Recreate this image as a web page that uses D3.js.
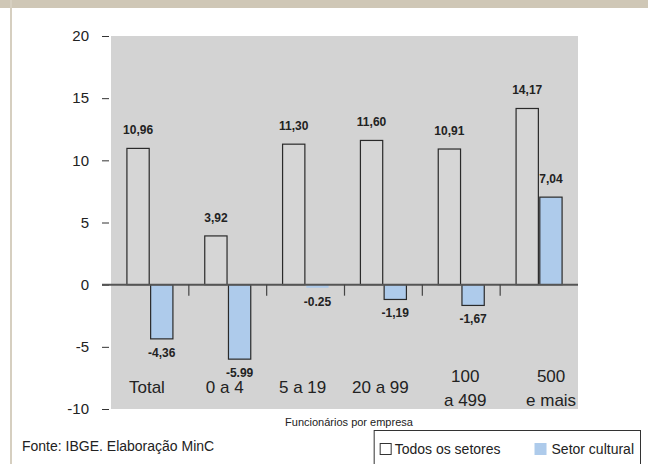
<!DOCTYPE html>
<html><head><meta charset="utf-8">
<script src="https://cdn.jsdelivr.net/npm/d3@7"></script>
<style>body{margin:0;background:#fff}svg{display:block}svg text{font-family:Arial,"Liberation Sans",Helvetica,sans-serif}</style>
</head><body>
<svg id="c" width="648" height="464"></svg>
<script>
const categories = [["Total"], ["0 a 4"], ["5 a 19"], ["20 a 99"], ["100", "a 499"], ["500", "e mais"]];
const todos = [10.96, 3.92, 11.30, 11.60, 10.91, 14.17];
const cultural = [-4.36, -5.99, -0.25, -1.19, -1.67, 7.04];
const todosLabels = ["10,96", "3,92", "11,30", "11,60", "10,91", "14,17"];
const culturalLabels = ["-4,36", "-5.99", "-0.25", "-1,19", "-1,67", "7,04"];
const yTicks = [-10, -5, 0, 5, 10, 15, 20];
const seriesNames = ["Todos os setores", "Setor cultural"];

const FONT = 'Arial, "Liberation Sans", Helvetica, sans-serif';
const svg = d3.select("#c");
// frame decoration
svg.append("rect").attr("x",0).attr("y",0).attr("width",648).attr("height",8).attr("fill","#cfc7b6");
svg.append("rect").attr("x",10).attr("y",0).attr("width",2).attr("height",464).attr("fill","#d6cfc0");

const L = 111, R = 578;
const y = d3.scaleLinear().domain([-10, 20]).range([409, 36]);
const x0 = d3.scaleBand().domain(d3.range(categories.length)).range([L, R]).padding(0);
const x1 = d3.scaleBand().domain([0, 1]).range([x0.bandwidth()/2 - 23, x0.bandwidth()/2 + 23]).paddingInner(0.06);

svg.append("rect").attr("x", L).attr("y", y(20)).attr("width", R - L).attr("height", y(-10) - y(20)).attr("fill", "#d3d3d3");

// y axis
const ax = svg.append("g").attr("transform", `translate(109,0)`)
  .call(d3.axisLeft(y).tickValues(yTicks).tickSize(7).tickPadding(13).tickFormat(d => String(d)));
ax.attr("font-family", FONT);
ax.select(".domain").remove();
ax.selectAll(".tick line").attr("stroke", "#333");
ax.selectAll(".tick text").attr("font-size", 15).attr("fill", "#222");

const g = svg.append("g");
const groups = g.selectAll("g.grp").data(categories).join("g")
  .attr("transform", (d, i) => `translate(${x0(i)},0)`);

// todos bars
groups.append("rect")
  .attr("x", x1(0)).attr("width", x1.bandwidth())
  .attr("y", (d, i) => y(Math.max(0, todos[i])))
  .attr("height", (d, i) => Math.abs(y(todos[i]) - y(0)))
  .attr("fill", "#d6d6d6").attr("stroke", "#2a2a2a").attr("stroke-width", 1.2);
// cultural bars
groups.append("rect")
  .attr("x", x1(1)).attr("width", x1.bandwidth())
  .attr("y", (d, i) => y(Math.max(0, cultural[i])))
  .attr("height", (d, i) => Math.abs(y(cultural[i]) - y(0)))
  .attr("fill", "#aecbeb")
  .attr("stroke", (d, i) => Math.abs(cultural[i]) < 0.5 ? "none" : "#2a2a2a").attr("stroke-width", 1.2);

// zero line
svg.append("line").attr("x1", 102).attr("x2", R).attr("y1", y(0)).attr("y2", y(0))
  .attr("stroke", "#555").attr("stroke-width", 2);
// group separator ticks
svg.selectAll("line.sep").data(d3.range(1, categories.length)).join("line")
  .attr("x1", i => x0(i)).attr("x2", i => x0(i))
  .attr("y1", y(0)).attr("y2", y(0) + 11).attr("stroke", "#444").attr("stroke-width", 1.2);

// value labels
function lab(vals, labels, s) {
  groups.append("text")
    .attr("x", x1(s) + x1.bandwidth()/2)
    .attr("y", (d, i) => vals[i] >= 0 ? y(vals[i]) - 14 : y(vals[i]) + 18)
    .attr("text-anchor", "middle").attr("font-size", 12).attr("font-weight", "bold").attr("fill", "#222")
    .text((d, i) => labels[i]);
}
lab(todos, todosLabels, 0);
lab(cultural, culturalLabels, 1);

// category labels
groups.each(function(d, i) {
  const t = d3.select(this).append("text").attr("text-anchor", "middle")
    .attr("font-size", 17).attr("fill", "#222");
  const cx = x0.bandwidth()/2 + (i === 5 ? 12 : (i === 4 ? 4 : -3));
  if (d.length === 1) {
    t.append("tspan").attr("x", cx).attr("y", 393).text(d[0]);
  } else {
    t.append("tspan").attr("x", cx).attr("y", 382).text(d[0]);
    t.append("tspan").attr("x", cx).attr("y", 406).text(d[1]);
  }
});

svg.append("text").attr("x", 349).attr("y", 426).attr("text-anchor", "middle")
  .attr("font-size", 11).attr("fill", "#222").text("Funcionários por empresa");
svg.append("text").attr("x", 22).attr("y", 451)
  .attr("font-size", 14).attr("fill", "#222").text("Fonte: IBGE. Elaboração MinC");

// legend, laid out from the right edge
const lg = svg.append("g");
const box = lg.append("rect").attr("y", 430.5).attr("height", 50)
  .attr("fill", "#fff").attr("stroke", "#333").attr("stroke-width", 1);
const colors = ["#fff", "#aecbeb"];
const t2 = lg.append("text").attr("font-size", 14).attr("fill", "#222").attr("y", 454).text(seriesNames[1]);
const w2 = t2.node().getComputedTextLength();
const t2x = 634 - w2; t2.attr("x", t2x);
const s2x = t2x - 17;
lg.append("rect").attr("x", s2x).attr("y", 443).attr("width", 12).attr("height", 12).attr("fill", colors[1]);
const t1 = lg.append("text").attr("font-size", 14).attr("fill", "#222").attr("y", 454).text(seriesNames[0]);
const w1 = t1.node().getComputedTextLength();
const t1x = s2x - 34 - w1; t1.attr("x", t1x);
const s1x = t1x - 15;
lg.append("rect").attr("x", s1x + 0.5).attr("y", 443.5).attr("width", 11).attr("height", 11)
  .attr("fill", colors[0]).attr("stroke", "#333");
box.attr("x", s1x - 5.5).attr("width", 640.5 - (s1x - 5.5));
</script>
</body></html>
